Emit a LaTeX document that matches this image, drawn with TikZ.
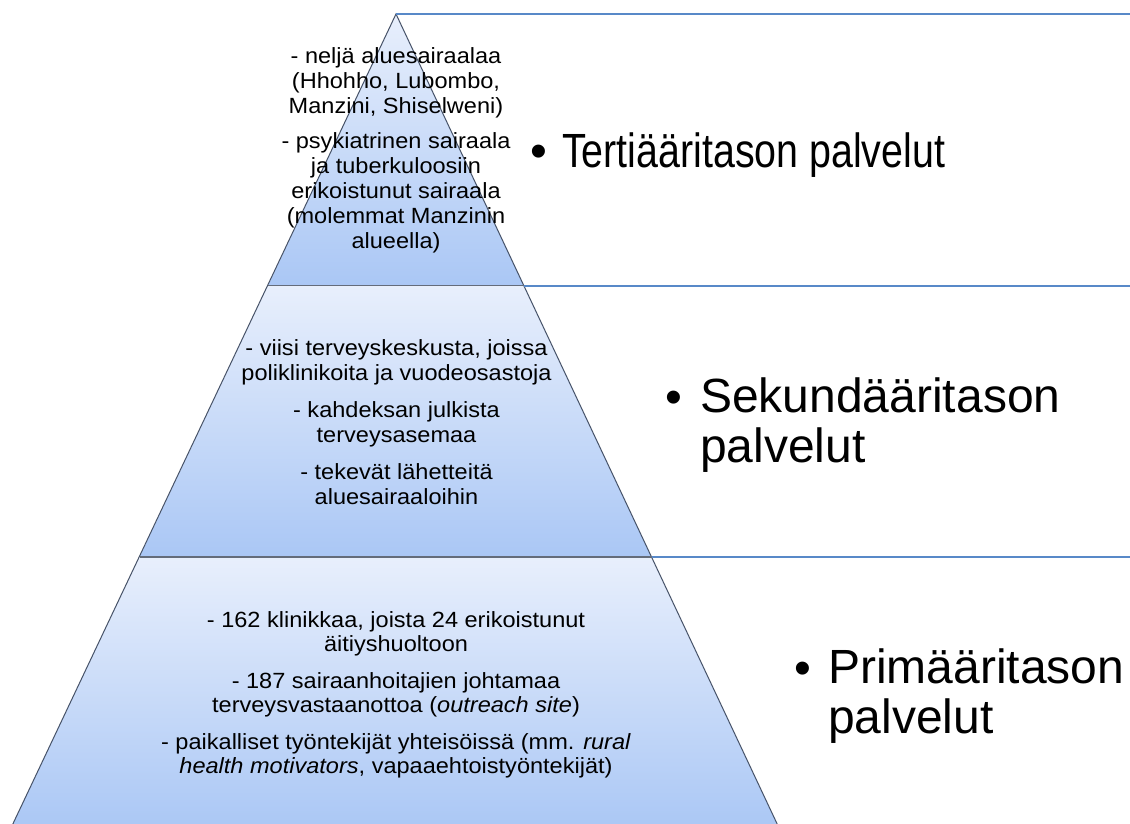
\documentclass[tikz,border=0pt]{standalone}
\usepackage{fontspec}
\setmainfont{Liberation Sans}
\newfontfamily\tierfont[FakeStretch=1.07]{Liberation Sans}
\newfontfamily\tertfont[FakeStretch=0.82]{Liberation Sans}
\definecolor{tiertop}{RGB}{232,239,252}
\definecolor{tierbot}{RGB}{170,199,245}
\definecolor{edgecol}{RGB}{70,82,104}
\definecolor{sepcol}{RGB}{100,108,122}
\definecolor{rulecol}{RGB}{88,137,200}
\begin{document}
\begin{tikzpicture}[x=1pt,y=-1pt,
  tierfill/.style={top color=tiertop, bottom color=tierbot, draw=none},
  pyredge/.style={draw=edgecol, line width=1pt},
  tiersep/.style={draw=sepcol, line width=1.4pt},
  levelrule/.style={draw=rulecol, line width=2pt},
  tiertext/.style={anchor=north, align=center, inner sep=0pt, text=black},
  biglabel/.style={inner sep=0pt, align=left, text=black, font=\fontsize{48}{49.5}\selectfont},
  bulletmark/.style={inner sep=0pt, anchor=base, text=black, font=\fontsize{48}{49.5}\selectfont}
]
\useasboundingbox (0,0) rectangle (1130,823);
% geometry
\coordinate (apex) at (396,14);
\coordinate (l1) at (268,285.5);
\coordinate (r1) at (524,285.5);
\coordinate (l2) at (139.5,557);
\coordinate (r2) at (651.5,557);
\coordinate (l3) at (10,830);
\coordinate (r3) at (780,830);
\coordinate (e0) at (1130,14);
\coordinate (e1) at (1130,285.5);
\coordinate (e2) at (1130,557);
% tiers
\shade[tierfill] (apex) -- (r1) -- (l1) -- cycle;
\shade[tierfill] (l1) -- (r1) -- (r2) -- (l2) -- cycle;
\shade[tierfill] (l2) -- (r2) -- (r3) -- (l3) -- cycle;
\draw[pyredge] (l3) -- (apex) -- (r3);
\draw[tiersep] (l1) -- (r1);
\draw[tiersep] (l2) -- (r2);
\draw[levelrule] (apex) -- (e0);
\draw[levelrule] (r1) -- (e1);
\draw[levelrule] (r2) -- (e2);
% tier texts
\node[tiertext, font=\tierfont\fontsize{22}{25}\selectfont] (t1) at (396,47.3)
  {- neljä aluesairaalaa\\(Hhohho, Lubombo,\\Manzini, Shiselweni)\\[10pt]- psykiatrinen sairaala\\ja tuberkuloosiin\\erikoistunut sairaala\\(molemmat Manzinin\\alueella)};
\node[tiertext, font=\tierfont\fontsize{22}{25}\selectfont] (t2) at (396.5,339.3)
  {- viisi terveyskeskusta, joissa\\poliklinikoita ja vuodeosastoja\\[12pt]- kahdeksan julkista\\terveysasemaa\\[12pt]- tekevät lähetteitä\\aluesairaaloihin};
\node[tiertext, font=\tierfont\fontsize{22}{24}\selectfont] (t3) at (396,611.3)
  {- 162 klinikkaa, joista 24 erikoistunut\\äitiyshuoltoon\\[13pt]- 187 sairaanhoitajien johtamaa\\terveysvastaanottoa (\textit{outreach site})\\[13pt]- paikalliset työntekijät yhteisöissä (mm. \textit{rural}\\\textit{health motivators}, vapaaehtoistyöntekijät)};
% level labels
\node[bulletmark] (b1) at (539,167) {•};
\node[biglabel, anchor=base west] (lab1) at (562,167) {\tertfont Tertiääritason palvelut};
\node[bulletmark] (b2) at (674,413) {•};
\node[biglabel, anchor=north west] (lab2) at (700,378) {Sekundääritason\\palvelut};
\node[bulletmark] (b3) at (803,684) {•};
\node[biglabel, anchor=north west] (lab3) at (828,649) {Primääritason\\palvelut};
\end{tikzpicture}
\end{document}
